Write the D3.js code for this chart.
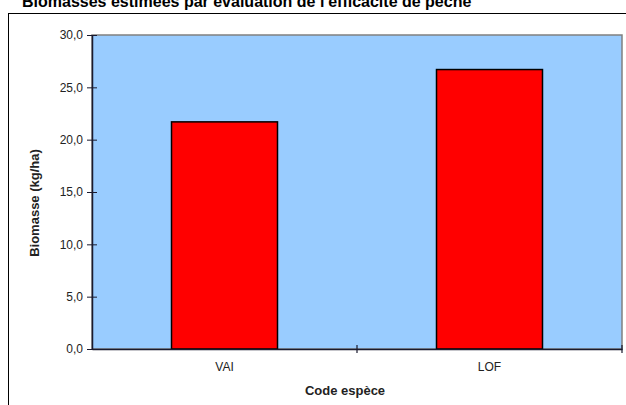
<!DOCTYPE html>
<html><head><meta charset="utf-8">
<script src="https://cdn.jsdelivr.net/npm/d3@7"></script>
<style>body{margin:0;background:#fff;}svg{display:block;font-family:"Liberation Sans",Arial,sans-serif;}</style>
</head><body><svg id="c" width="626" height="405"></svg>
<script>
const categories = ["VAI", "LOF"];
const values = [21.7, 26.7];
const yTicks = [0, 5, 10, 15, 20, 25, 30];
const title = "Biomasses estimées par évaluation de l'efficacité de pêche";
const xTitle = "Code espèce";
const yTitle = "Biomasse (kg/ha)";

const svg = d3.select("#c");
const m = {left: 92, right: 4, top: 35, bottom: 56};
const W = 626, H = 405;
const x = d3.scaleBand().domain(categories).range([m.left, W - m.right]).paddingInner(0.6).paddingOuter(0.3);
const xOuter = d3.scaleBand().domain(categories).range([m.left, W - m.right]);
const y = d3.scaleLinear().domain([0, 30]).range([H - m.bottom, m.top]);

// outer chart border
svg.append("rect").attr("x", 8.5).attr("y", 13.5).attr("width", 640).attr("height", 420)
  .attr("fill", "none").attr("stroke", "#000").attr("stroke-width", 1);

// title (partly cut off at top, as in the reference)
svg.append("text").attr("x", 22).attr("y", 6.5).attr("font-size", 16).attr("font-weight", "bold")
  .attr("fill", "#000").text(title);

// plot area
svg.append("rect").attr("x", m.left).attr("y", m.top).attr("width", W - m.right - m.left)
  .attr("height", H - m.bottom - m.top).attr("fill", "#99ccff").attr("stroke", "#808080").attr("stroke-width", 1.5);

// bars
svg.selectAll(".bar").data(values).enter().append("rect")
  .attr("x", (d, i) => x(categories[i]))
  .attr("y", d => y(d))
  .attr("width", x.bandwidth())
  .attr("height", d => y(0) - y(d))
  .attr("fill", "#ff0000").attr("stroke", "#000").attr("stroke-width", 1.5);

// y axis
const yAxis = d3.axisLeft(y).tickValues(yTicks).tickSizeInner(5).tickSizeOuter(0)
  .tickFormat(d => d3.format(".1f")(d).replace(".", ","));
const gy = svg.append("g").attr("transform", `translate(${m.left},0)`).call(yAxis);
gy.select(".domain").attr("stroke", "#1a1a2e").attr("stroke-width", 1.5);
gy.selectAll(".tick line").attr("x2", -5).attr("x1", 5).attr("stroke", "#1a1a2e");
gy.selectAll(".tick text").attr("x", -9).attr("font-size", 12).attr("fill", "#222").attr("font-family", "Liberation Sans, Arial");

// x axis
const xAxis = d3.axisBottom(xOuter).tickSize(0).tickSizeOuter(0);
const gx = svg.append("g").attr("transform", `translate(0,${H - m.bottom})`).call(xAxis);
gx.select(".domain").attr("stroke", "#1a1a2e").attr("stroke-width", 1.5);
gx.selectAll(".tick text").attr("y", 13).attr("font-size", 12).attr("fill", "#222").attr("font-family", "Liberation Sans, Arial");
// category separators (cross ticks)
const seps = [xOuter.range()[0] + xOuter.step(), xOuter.range()[1]];
gx.selectAll(".sep").data(seps).enter().append("line")
  .attr("x1", d => d).attr("x2", d => d).attr("y1", -4).attr("y2", 4)
  .attr("stroke", "#1a1a2e").attr("stroke-width", 1.2);

// axis titles
svg.append("text").attr("x", 345).attr("y", 395).attr("text-anchor", "middle")
  .attr("font-size", 13).attr("font-weight", "bold").attr("fill", "#222").text(xTitle);
svg.append("text").attr("transform", "translate(39,203) rotate(-90)").attr("text-anchor", "middle")
  .attr("font-size", 13).attr("font-weight", "bold").attr("fill", "#222").text(yTitle);
</script></body></html>
